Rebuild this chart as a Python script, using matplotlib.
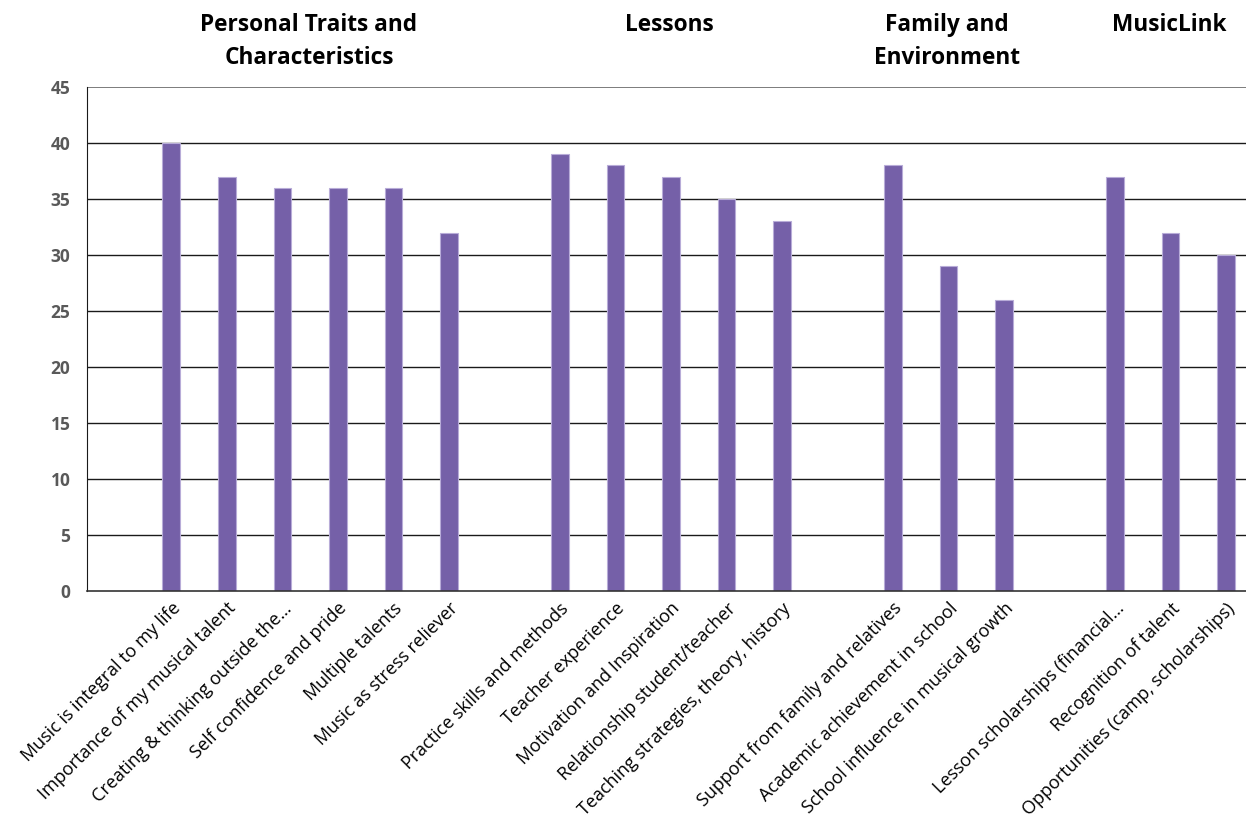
import matplotlib
matplotlib.use("Agg")
import matplotlib.pyplot as plt
import numpy as np

plt.rcParams['font.family'] = ['Open Sans', 'DejaVu Sans']

# Groups and their items
groups = ["Personal Traits and\nCharacteristics", "Lessons", "Family and\nEnvironment", "MusicLink"]
labels = [
    ["Music is integral to my life", "Importance of my musical talent",
     "Creating & thinking outside the\u2026", "Self confidence and pride",
     "Multiple talents", "Music as stress reliever"],
    ["Practice skills and methods", "Teacher experience", "Motivation and Inspiration",
     "Relationship student/teacher", "Teaching strategies, theory, history"],
    ["Support from family and relatives", "Academic achievement in school",
     "School influence in musical growth"],
    ["Lesson scholarships (financial\u2026", "Recognition of talent",
     "Opportunities (camp, scholarships)"],
]
values = [
    [40, 37, 36, 36, 36, 32],
    [39, 38, 37, 35, 33],
    [38, 29, 26],
    [37, 32, 30],
]

fig = plt.figure(figsize=(12.46, 8.21), dpi=100)
ax = fig.add_axes([87/1246, 1 - 591/821, 1 - 87/1246, (591 - 87)/821])

# lay groups out with one empty slot before each group
xs, ys, names, centers = [], [], [], []
pos = 0
for labs, vals in zip(labels, values):
    pos += 1
    start = pos
    for l, v in zip(labs, vals):
        xs.append(pos); ys.append(v); names.append(l)
        pos += 1
    centers.append((start + pos - 1) / 2)

for y in range(5, 45, 5):
    ax.axhline(y, color='#1a1a1a', lw=1.0, zorder=0)
ax.axhline(45, color='#666666', lw=1.2, zorder=0)

ax.bar(xs, ys, width=0.32, color='#7560A8', edgecolor='#B8ACD8', linewidth=0.8, zorder=2)

ax.set_xlim(-0.52, 20.36)
ax.set_ylim(0, 45)
ax.set_yticks(range(0, 46, 5))
ax.tick_params(axis='y', length=0, pad=12, labelsize=12.5, labelcolor='#595959')
for t in ax.get_yticklabels():
    t.set_fontweight('bold')
ax.set_xticks(xs)
ax.set_xticklabels(names, rotation=45, ha='right', rotation_mode='anchor', fontsize=13)
ax.tick_params(axis='x', length=0, pad=6)

for s in ['top', 'right']:
    ax.spines[s].set_visible(False)
ax.spines['left'].set_color('#1a1a1a')
ax.spines['bottom'].set_color('#333333')
ax.spines['bottom'].set_linewidth(1.2)

for c, g in zip(centers, groups):
    x_fig = (87 + (c + 0.5) * 55.5) / 1246
    fig.text(x_fig, 1 - 13/821, g, ha='center', va='top', fontsize=16.3,
             fontweight='bold', linespacing=1.5)

fig.savefig("out.png", dpi=100)
